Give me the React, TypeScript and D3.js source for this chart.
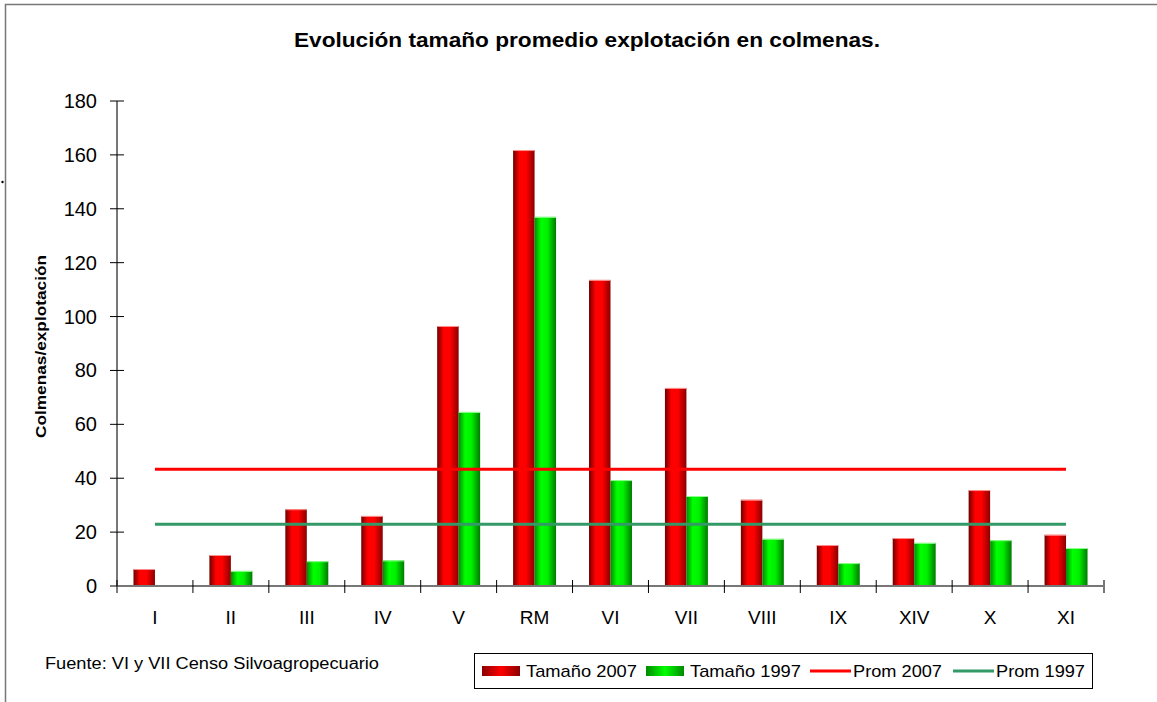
import React, { useEffect, useRef } from 'react';
import * as d3 from 'd3';

const categories = ['I', 'II', 'III', 'IV', 'V', 'RM', 'VI', 'VII', 'VIII', 'IX', 'XIV', 'X', 'XI'];
const tamano2007 = [6.3, 11.5, 28.5, 26, 96.5, 161.8, 113.6, 73.5, 32, 15.2, 17.8, 35.6, 19];
const tamano1997 = [0, 5.6, 9.2, 9.5, 64.6, 137, 39.3, 33.4, 17.5, 8.5, 16, 17, 14.1];
const prom2007 = 43.3;
const prom1997 = 22.9;
const yTicks = [0, 20, 40, 60, 80, 100, 120, 140, 160, 180];

const W = 1157;
const H = 702;
const FONT = 'Arial, "Liberation Sans", sans-serif';

const App = () => {
  const svgRef = useRef<SVGSVGElement | null>(null);

  useEffect(() => {
    if (!svgRef.current) return;
    const svg = d3.select(svgRef.current);
    svg.selectAll('*').remove();

    const left = 117, right = 1104, top = 101, bottom = 586;

    // gradients for the cylinder-like bars
    const defs = svg.append('defs');
    const grad = (id: string, stops: [string, string][]) => {
      const g = defs.append('linearGradient').attr('id', id)
        .attr('x1', '0%').attr('x2', '100%').attr('y1', '0%').attr('y2', '0%');
      stops.forEach(([o, c]) => g.append('stop').attr('offset', o).attr('stop-color', c));
    };
    grad('gRed', [['0%', '#6e0000'], ['30%', '#ff0000'], ['60%', '#ff0000'], ['100%', '#8a0000']]);
    grad('gGreen', [['0%', '#008a00'], ['30%', '#00ff00'], ['60%', '#00f000'], ['100%', '#007a00']]);
    grad('gRedL', [['0%', '#8a0000'], ['50%', '#ff0000'], ['100%', '#8a0000']]);
    grad('gGreenL', [['0%', '#008a00'], ['50%', '#00ff00'], ['100%', '#008a00']]);

    svg.append('rect').attr('width', W).attr('height', H).attr('fill', '#fff');
    // outer frame
    svg.append('path').attr('d', `M5.5,${H}V4.5H${W}`)
      .attr('fill', 'none').attr('stroke', '#777').attr('stroke-width', 1.5);
    svg.append('circle').attr('cx', 2.5).attr('cy', 182).attr('r', 1.2).attr('fill', '#000');

    const x0 = d3.scaleBand<string>().domain(categories).range([left, right]);
    const bw = x0.bandwidth();
    const x1 = d3.scaleBand<string>().domain(['2007', '1997']).range([bw * 0.217, bw * 0.783]);
    const y = d3.scaleLinear().domain([0, 180]).range([bottom, top]);

    // title
    svg.append('text').attr('x', 294).attr('y', 47)
      .attr('textLength', 586).attr('lengthAdjust', 'spacingAndGlyphs')
      .style('font-family', FONT).style('font-size', '20px').style('font-weight', 'bold')
      .attr('fill', '#000').text('Evolución tamaño promedio explotación en colmenas.');

    // y label
    svg.append('text').attr('transform', `translate(46,438) rotate(-90)`)
      .attr('textLength', 183).attr('lengthAdjust', 'spacingAndGlyphs')
      .style('font-family', FONT).style('font-size', '15.5px').style('font-weight', 'bold')
      .text('Colmenas/explotación');

    // bars
    const rows = categories.map((c, i) => ({ c, a: tamano2007[i], b: tamano1997[i] }));
    const g = svg.append('g');
    rows.forEach(r => {
      const gx = x0(r.c) as number;
      [['2007', r.a, 'url(#gRed)'], ['1997', r.b, 'url(#gGreen)']].forEach(([k, v, f]) => {
        if ((v as number) <= 0) return;
        const bx = gx + (x1(k as string) as number);
        g.append('rect')
          .attr('x', bx)
          .attr('y', y(v as number))
          .attr('width', x1.bandwidth())
          .attr('height', bottom - y(v as number))
          .attr('fill', f as string);
        g.append('line')
          .attr('x1', bx).attr('x2', bx + x1.bandwidth())
          .attr('y1', y(v as number) + 0.5).attr('y2', y(v as number) + 0.5)
          .attr('stroke', k === '2007' ? '#ff9090' : '#90ff90').attr('stroke-width', 1);
      });
    });

    // average lines
    const cx0 = (x0(categories[0]) as number) + bw / 2;
    const cx1 = (x0(categories[categories.length - 1]) as number) + bw / 2;
    [[prom2007, '#ff0000'], [prom1997, '#339966']].forEach(([v, c]) => {
      svg.append('line').attr('x1', cx0).attr('x2', cx1)
        .attr('y1', y(v as number)).attr('y2', y(v as number))
        .attr('stroke', c as string).attr('stroke-width', 3);
    });

    // y axis
    const ya = svg.append('g').attr('transform', `translate(${left},0)`);
    ya.append('line').attr('y1', top).attr('y2', bottom).attr('stroke', '#777').attr('stroke-width', 2);
    yTicks.forEach(t => {
      ya.append('line').attr('x1', -7).attr('x2', 7).attr('y1', y(t)).attr('y2', y(t))
        .attr('stroke', '#000').attr('stroke-width', 1);
      ya.append('text').attr('x', -20).attr('y', y(t)).attr('dy', '0.35em').attr('text-anchor', 'end')
        .style('font-family', FONT).style('font-size', '20px').text(t);
    });

    // x axis
    const xa = svg.append('g');
    xa.append('line').attr('x1', left).attr('x2', right).attr('y1', bottom).attr('y2', bottom)
      .attr('stroke', '#777').attr('stroke-width', 2);
    [...categories.map(c => x0(c) as number), right].forEach(tx => {
      xa.append('line').attr('x1', tx).attr('x2', tx).attr('y1', bottom - 6).attr('y2', bottom + 7)
        .attr('stroke', tx === right ? '#777' : '#000').attr('stroke-width', tx === right ? 2 : 1);
    });
    categories.forEach(c => {
      xa.append('text').attr('x', (x0(c) as number) + bw / 2).attr('y', 624).attr('text-anchor', 'middle')
        .style('font-family', FONT).style('font-size', '19px').text(c);
    });

    // source
    svg.append('text').attr('x', 45).attr('y', 669)
      .attr('textLength', 334).attr('lengthAdjust', 'spacingAndGlyphs')
      .style('font-family', FONT).style('font-size', '16px').text('Fuente: VI y VII Censo Silvoagropecuario');

    // legend
    const lg = svg.append('g');
    lg.append('rect').attr('x', 474.5).attr('y', 653.5).attr('width', 618).attr('height', 35)
      .attr('fill', '#fff').attr('stroke', '#000').attr('stroke-width', 1);
    const items = [
      { label: 'Tamaño 2007', x: 482, kind: 'bar', fill: 'url(#gRedL)', len: 111 },
      { label: 'Tamaño 1997', x: 646, kind: 'bar', fill: 'url(#gGreenL)', len: 111 },
      { label: 'Prom 2007', x: 810, kind: 'line', fill: '#ff0000', len: 89 },
      { label: 'Prom 1997', x: 953, kind: 'line', fill: '#339966', len: 89 },
    ];
    items.forEach(it => {
      if (it.kind === 'bar') {
        lg.append('rect').attr('x', it.x).attr('y', 666).attr('width', 38).attr('height', 10).attr('fill', it.fill);
      } else {
        lg.append('line').attr('x1', it.x).attr('x2', it.x + 41).attr('y1', 671).attr('y2', 671)
          .attr('stroke', it.fill).attr('stroke-width', 3);
      }
      lg.append('text').attr('x', it.x + (it.kind === 'bar' ? 44 : 43)).attr('y', 677)
        .attr('textLength', it.len).attr('lengthAdjust', 'spacingAndGlyphs')
        .style('font-family', FONT).style('font-size', '17px').text(it.label);
    });
  }, []);

  return <svg ref={svgRef} width={W} height={H} style={{ position: 'absolute', left: 0, top: 0 }} />;
};

export default App;
